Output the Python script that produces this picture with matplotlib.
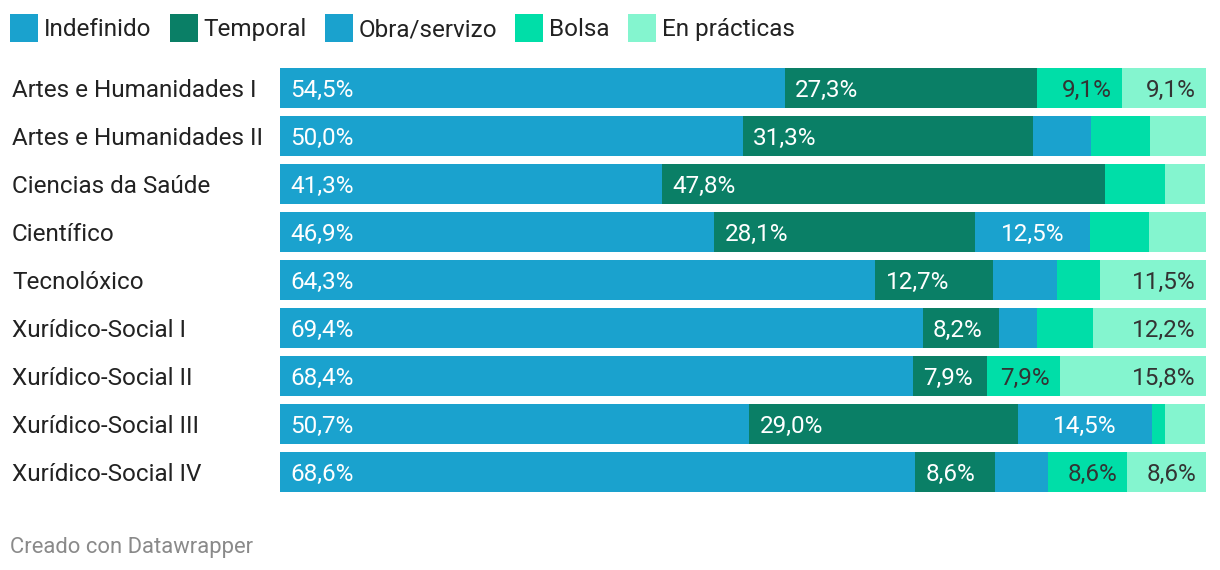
import numpy as np
import matplotlib
matplotlib.use("Agg")
from matplotlib import pyplot as plt
from matplotlib import transforms
from matplotlib.patches import Rectangle

plt.rcParams['font.family'] = ['Roboto', 'DejaVu Sans']

categories = ["Artes e Humanidades I", "Artes e Humanidades II", "Ciencias da Saúde",
              "Científico", "Tecnolóxico", "Xurídico-Social I", "Xurídico-Social II",
              "Xurídico-Social III", "Xurídico-Social IV"]
series = ["Indefinido", "Temporal", "Obra/servizo", "Bolsa", "En prácticas"]

indefinido = [54.5, 50.0, 41.3, 46.9, 64.3, 69.4, 68.4, 50.7, 68.6]
temporal = [27.3, 31.3, 47.8, 28.1, 12.7, 8.2, 7.9, 29.0, 8.6]
obra = [0.0, 6.3, 0.0, 12.5, 6.9, 4.1, 0.0, 14.5, 5.7]
bolsa = [9.1, 6.3, 6.5, 6.3, 4.6, 6.1, 7.9, 1.4, 8.6]
practicas = [9.1, 6.3, 4.3, 6.3, 11.5, 12.2, 15.8, 4.3, 8.6]

colors = ["#1aa2ce", "#0a7f66", "#1aa2ce", "#00dea8", "#84f5cf"]
text_colors = ["white", "white", "white", "#333333", "#333333"]
aligns = ["left", "left", "center", "right", "right"]
FS = 17.5

W, H = 1220, 570
fig = plt.figure(figsize=(W / 100, H / 100), dpi=100)

# axes spanning the bar area (pixels 280..1206 x, 64..496 y)
ax = fig.add_axes([280 / W, 1 - 496 / H, 926 / W, 432 / H])
ax.set_xlim(0, 100)
ax.set_ylim(len(categories) - 0.5, -0.5)
ax.axis("off")

data = np.array([indefinido, temporal, obra, bolsa, practicas])
y = np.arange(len(categories))
left = np.zeros(len(categories))
pad = 1.1  # ~10px in data units
for k, vals in enumerate(data):
    ax.barh(y, vals, left=left, height=40 / 48, color=colors[k], linewidth=0)
    for i, v in enumerate(vals):
        if v >= 7.5:
            lab = f"{v:.1f}%".replace(".", ",")
            if aligns[k] == "left":
                xt = left[i] + pad
            elif aligns[k] == "right":
                xt = left[i] + v - pad
            else:
                xt = left[i] + v / 2
            ax.text(xt, i, lab, ha=aligns[k], va="center_baseline", fontsize=FS,
                    color=text_colors[k])
    left = left + vals

# category labels on the left
tr = transforms.blended_transform_factory(fig.transFigure, ax.transData)
for i, c in enumerate(categories):
    ax.text(12 / W, i, c, transform=tr, ha="left", va="center_baseline",
            fontsize=FS, color="#222222")

# legend across the top
fig.canvas.draw()
renderer = fig.canvas.get_renderer()
x = 10
for k, name in enumerate(series):
    fig.patches.append(Rectangle((x / W, 1 - 42 / H), 28 / W, 28 / H,
                                 transform=fig.transFigure, color=colors[k], linewidth=0))
    t = fig.text((x + 34) / W, 1 - 27 / H, name, ha="left", va="center_baseline",
                 fontsize=FS, color="#222222")
    bb = t.get_window_extent(renderer)
    x = bb.x1 + 18

fig.text(10 / W, 1 - 545 / H, "Creado con Datawrapper", ha="left", va="center_baseline",
         fontsize=15.8, color="#8a8a8a")

fig.savefig("out.png", dpi=100)
